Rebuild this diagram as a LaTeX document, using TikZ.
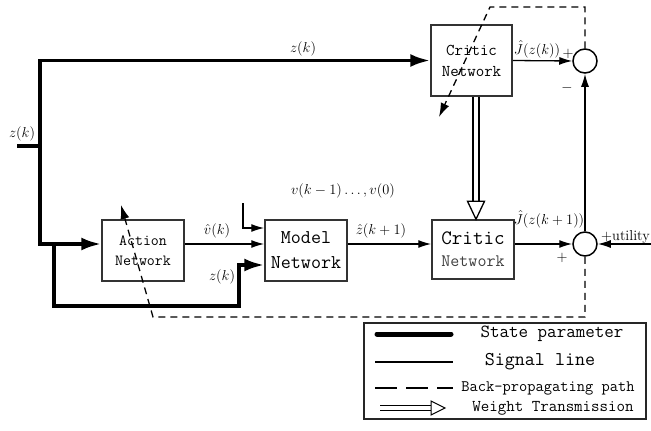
\documentclass[tikz,border=0pt]{standalone}
\usepackage{tikz}
\usepackage{xcolor}
\usetikzlibrary{arrows.meta}

\begin{document}
\begin{tikzpicture}[x=1pt,y=1pt,
		netbox/.style={draw=black!80,line width=1.5pt,inner sep=0pt,align=center,font=\ttfamily},
		sumnode/.style={draw,circle,line width=1.5pt,minimum size=24pt,inner sep=0pt},
		statepath/.style={line width=3.6pt},
		statearrow/.style={statepath,-{Latex[length=20pt,width=13pt]}},
		sigarrow/.style={line width=1.3pt,-{Latex[length=13pt,width=8pt]}},
		backpath/.style={line width=1.3pt,dash pattern=on 7pt off 5pt,-{Latex[length=14pt,width=9pt]}},
		weightline/.style={double,double distance=4.5pt,line width=1.3pt},
		weighttip/.style={line width=1.3pt,fill=white,line join=miter},
		lbl/.style={font=\fontsize{14.4}{17}\selectfont,inner sep=0pt},
		legtext/.style={font=\ttfamily,inner sep=0pt}]
			\useasboundingbox (0,0) rectangle (651,-431);
			\node[netbox,minimum width=81pt,minimum height=71pt,font=\fontsize{16.5}{21}\selectfont\ttfamily] (critic1) at (471.5,-60.5) {Critic\\Network};
			\node[netbox,minimum width=82pt,minimum height=59pt,font=\fontsize{20.5}{22}\selectfont\ttfamily] (critic2) at (473,-249.5) {Critic\\{\fontsize{17.5}{22}\selectfont\color{black!75}Network}};
			\node[netbox,minimum width=82pt,minimum height=61pt,font=\fontsize{15.5}{20}\selectfont\ttfamily] (action) at (143,-250.5) {Action\\Network};
			\node[netbox,minimum width=82pt,minimum height=61pt,font=\fontsize{19.5}{25}\selectfont\ttfamily] (model) at (306,-250.5) {Model\\Network};
			\node[sumnode] (sum1) at (585,-61) {};
			\node[sumnode] (sum2) at (585,-244) {};
			\coordinate (row) at (0,-244);
			\coordinate (zin) at (17,-146);
			\coordinate (zsplit) at (40,-146);
			\coordinate (br) at (54,-244);
			\coordinate (bz) at (239,-306);
			\coordinate (vin) at (243,-203);
			\coordinate (uin) at (651,-244);
			\coordinate (wx) at (476,0);
			\coordinate (bpa) at (490,-7);
			\coordinate (bpb) at (439,-117);
			\coordinate (bpc) at (153,-317);
			\coordinate (bpd) at (121,-205);
			\draw[statepath] (zin) -- (zsplit);
			\draw[statearrow] (zsplit) |- (critic1.west);
			\draw[statearrow] (zsplit) |- (action.west |- row);
			\draw[statearrow] (br) |- (bz) |- ([yshift=-14.5pt]model.west);
			\draw[sigarrow] (action.east |- row) -- (model.west |- row);
			\draw[sigarrow] (vin) |- ([yshift=22.5pt]model.west);
			\draw[sigarrow] (model.east |- row) -- (critic2.west |- row);
			\draw[sigarrow] (critic2.east |- row) -- (sum2.west);
			\draw[sigarrow] (critic1.east) -- (sum1.west);
			\draw[sigarrow] (sum2.north) -- (sum1.south);
			\draw[sigarrow] (uin) -- (sum2.east);
			\draw[weightline] (critic1.south -| wx) -- ([yshift=17pt]critic2.north -| wx);
			\draw[weighttip] (critic2.north -| wx) -- ++(-8.5,18) -- ++(17,0) -- cycle;
			\draw[backpath] (sum1.north) |- (bpa) -- (bpb);
			\draw[backpath] (sum2.south) |- (bpc) -- (bpd);
			\node[lbl] (ztop) at (303,-49) {$z(k)$};
			\node[lbl] (zleft) at (22,-134) {$z(k)$};
			\node[lbl] (jk) at (537,-49) {$\hat{J}(z(k))$};
			\node[lbl] (p1) at (568,-54) {$+$};
			\node[lbl] (m1) at (567,-88) {$-$};
			\node[lbl] (vk) at (217,-231) {$\hat{v}(k)$};
			\node[lbl] (zlow) at (222,-277) {$z(k)$};
			\node[lbl] (vpast) at (343,-191) {$v(k-1)\ldots,v(0)$};
			\node[lbl] (zk1) at (381,-231) {$\hat{z}(k+1)$};
			\node[lbl] (jk1) at (549,-219) {$\hat{J}(z(k+1))$};
			\node[lbl] (p2) at (562,-258) {$+$};
			\node[lbl,anchor=west] (util) at (601,-237) {+utility};
			\node[draw=black!85,line width=1.3pt,minimum width=282pt,minimum height=96pt] (legend) at (505,-371) {};
			\draw[line width=5pt,line cap=round] (377,-334) -- (451,-334);
			\draw[line width=1.3pt] (375,-362) -- (453,-362);
			\draw[line width=1.3pt,dash pattern=on 22pt off 9pt] (375,-388) -- (453,-388);
			\draw[weightline,line width=1pt,double distance=4pt] (380,-408) -- (433,-408);
			\draw[weighttip,line width=1pt] (445,-408) -- ++(-14,7) -- ++(0,-14) -- cycle;
			\node[legtext,font=\fontsize{18.5}{20}\selectfont\ttfamily] (leg1) at (552,-334) {State parameter};
			\node[legtext,font=\fontsize{19.5}{21}\selectfont\ttfamily] (leg2) at (540,-362) {Signal line};
			\node[legtext,font=\fontsize{16}{18}\selectfont\ttfamily] (leg3) at (548,-388) {Back-propagating path};
			\node[legtext,font=\fontsize{16.5}{18}\selectfont\ttfamily] (leg4) at (553,-408) {Weight Transmission};
		\end{tikzpicture}
\end{document}
